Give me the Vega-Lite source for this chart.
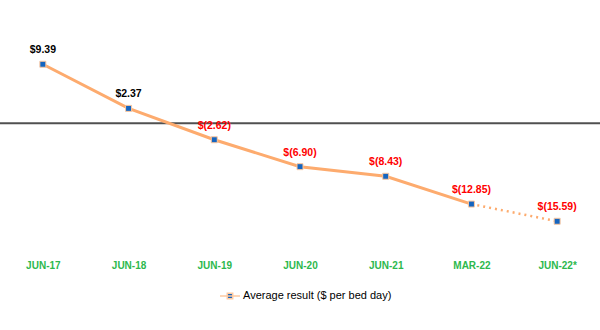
{
  "$schema": "https://vega.github.io/schema/vega-lite/v6.json",
  "width": 600,
  "height": 220,
  "autosize": "none",
  "padding": {"left": 0, "top": 29, "right": 0, "bottom": 81},
  "background": "white",
  "config": {"view": {"stroke": null}},
  "data": {
    "values": [
      {"period": "JUN-17", "value": 9.39, "label": "$9.39", "seg": "solid"},
      {"period": "JUN-18", "value": 2.37, "label": "$2.37", "seg": "solid"},
      {"period": "JUN-19", "value": -2.62, "label": "$(2.62)", "seg": "solid"},
      {"period": "JUN-20", "value": -6.90, "label": "$(6.90)", "seg": "solid"},
      {"period": "JUN-21", "value": -8.43, "label": "$(8.43)", "seg": "solid"},
      {"period": "MAR-22", "value": -12.85, "label": "$(12.85)", "seg": "both"},
      {"period": "JUN-22*", "value": -15.59, "label": "$(15.59)", "seg": "dotted"}
    ]
  },
  "encoding": {
    "x": {
      "field": "period", "type": "ordinal", "sort": null,
      "scale": {"type": "point", "padding": 0.5},
      "axis": {
        "title": null, "domain": false, "ticks": false, "grid": false,
        "labelAngle": 0, "labelColor": "#2db84d", "labelFont": "Liberation Sans",
        "labelFontSize": 10, "labelFontWeight": "bold", "labelPadding": 11
      }
    },
    "y": {
      "field": "value", "type": "quantitative",
      "scale": {"domain": [-20, 15], "nice": false, "zero": false},
      "axis": null
    }
  },
  "layer": [
    {
      "data": {"values": [{"v": 0}]},
      "mark": {"type": "rule", "color": "#505050", "strokeWidth": 2},
      "encoding": {"y": {"field": "v", "type": "quantitative"}, "x": null}
    },
    {
      "transform": [{"filter": "datum.seg != 'dotted'"}],
      "mark": {"type": "line", "color": "#fdab6e", "strokeWidth": 3}
    },
    {
      "transform": [{"filter": "datum.seg != 'solid'"}],
      "mark": {"type": "line", "color": "#fdab6e", "strokeWidth": 2.5, "strokeDash": [2, 4]}
    },
    {
      "mark": {"type": "point", "shape": "square", "filled": true, "fill": "#1565c0", "strokeWidth": 1, "size": 36, "opacity": 1},
      "encoding": {
        "stroke": {
          "datum": "Average result ($ per bed day)",
          "type": "nominal",
          "scale": {"range": ["#fdc9a0"]},
          "legend": {
            "title": null, "orient": "none", "legendX": 219, "legendY": 256,
            "symbolType": "M-1,0H1M-0.27,-0.27H0.27V0.27H-0.27Z",
            "symbolSize": 400,
            "labelOffset": 2, "labelLimit": 300,
            "labelFont": "Liberation Sans", "labelFontSize": 11, "labelColor": "#000000",
            "encode": {
              "symbols": {
                "update": {
                  "fill": {"value": "#1565c0"},
                  "stroke": {"value": "#fdab6e"},
                  "strokeWidth": {"value": 2.5},
                  "opacity": {"value": 1}
                }
              }
            }
          }
        }
      }
    },
    {
      "mark": {"type": "text", "dy": -14, "font": "Liberation Sans", "fontSize": 10.5, "fontWeight": "bold"},
      "encoding": {
        "text": {"field": "label"},
        "color": {"condition": {"test": "datum.value < 0", "value": "#ff0000"}, "value": "#000000"}
      }
    }
  ]
}
